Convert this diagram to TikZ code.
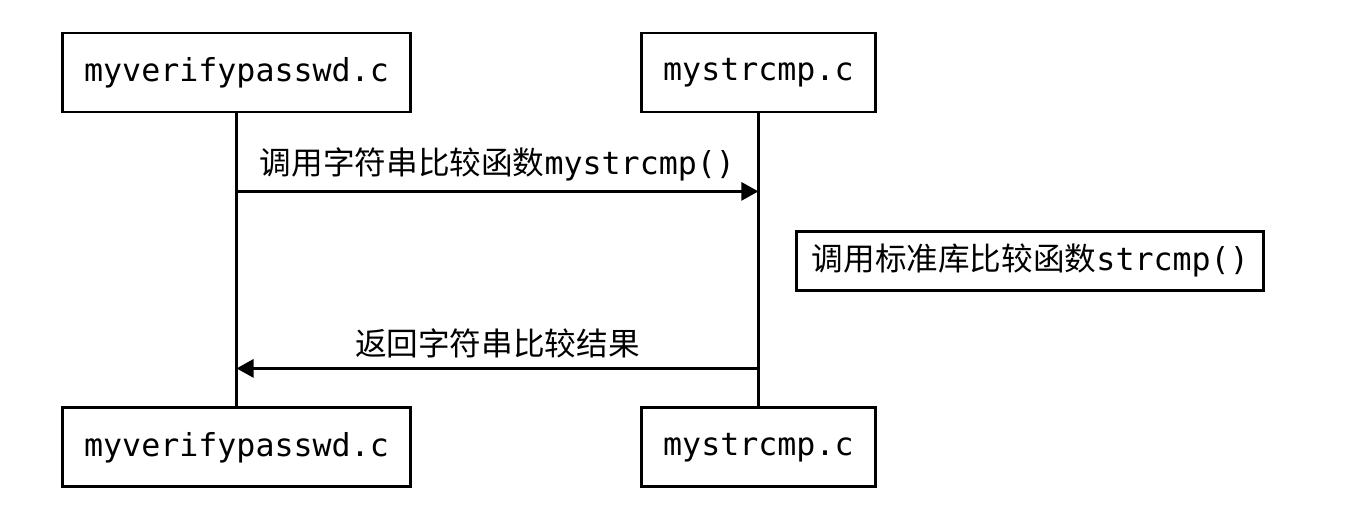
\documentclass[tikz,border=0pt]{standalone}
\usepackage{fontspec}
\setmonofont{DejaVu Sans Mono}
\newfontfamily\cjk{Noto Sans CJK SC}
\usetikzlibrary{positioning,arrows.meta}
\tikzset{
  txt/.style={font=\fontsize{18}{22}\selectfont\ttfamily},
  filebox/.style={txt,draw,line width=1.6pt,minimum height=1.58cm,inner xsep=0.44cm},
  notebox/.style={txt,draw,line width=1.6pt,minimum height=1.18cm,inner xsep=0.3cm},
  lifeline/.style={line width=1.6pt},
  msg/.style={line width=1.6pt,-{Triangle[length=0.34cm,width=0.36cm]}}
}

\begin{document}
\begin{tikzpicture}
\useasboundingbox (0,0) rectangle (27,10.24);
\node[filebox] (vtop) at (4.73,8.79) {myverifypasswd.c};
\node[filebox,right=4.55cm of vtop] (stop) {mystrcmp.c};
\node[filebox,below=5.86cm of vtop] (vbot) {myverifypasswd.c};
\node[filebox,below=5.86cm of stop] (sbot) {mystrcmp.c};

\coordinate[below=1.56cm of vtop.south] (call);
\coordinate[below=5.1cm of vtop.south] (ret);
\coordinate[below=2.95cm of stop.south] (self);
\node[notebox,right=0.74cm of self] (note) {{\cjk 调用标准库比较函数}strcmp()};

\draw[lifeline] (vtop) -- (vbot);
\draw[lifeline] (stop) -- (sbot);
\draw[msg] (call) -- node[txt,above=2pt] {{\cjk 调用字符串比较函数}mystrcmp()} (call -| stop);
\draw[msg] (ret -| stop) -- node[txt,above=2pt] {\cjk 返回字符串比较结果} (ret);
\end{tikzpicture}
\end{document}
